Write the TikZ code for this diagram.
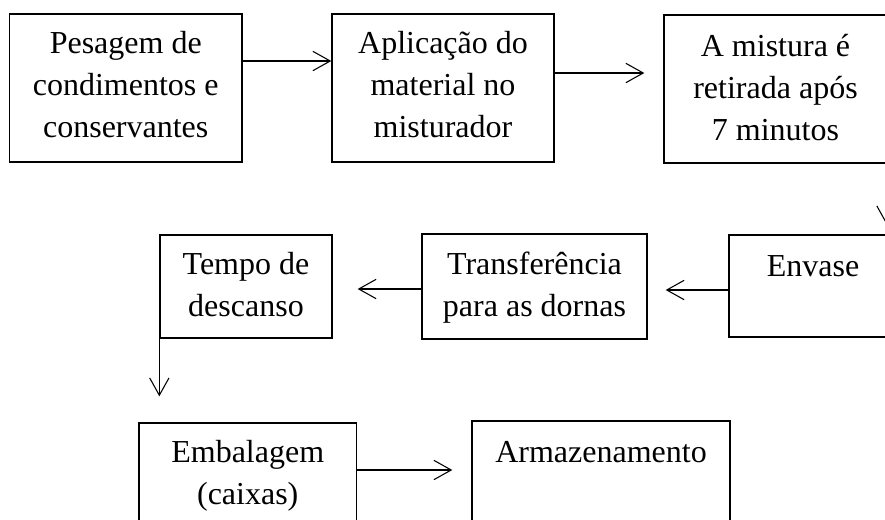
\documentclass[tikz,border=0pt]{standalone}
\usepackage{fontspec}
\setmainfont{Liberation Serif}
\usetikzlibrary{arrows.meta,fit,calc}
\tikzset{
  box/.style={draw=black, line width=1pt, inner sep=0pt, fill=none},
  lbl/.style={anchor=base, inner sep=0pt, font=\fontsize{24pt}{31.5pt}\selectfont},
  arr/.style={draw=black, line width=0.8pt, -{Straight Barb[length=13pt,width=14.5pt,line width=0.8pt]}}
}
\newcommand{\lines}[1]{\begin{tabular}[t]{@{}c@{}}#1\end{tabular}}
\begin{document}
\begin{tikzpicture}[x=0.75pt,y=-0.75pt]
\useasboundingbox (0,0) rectangle (885,519);
\fill[white] (0,0) rectangle (885,519);
\clip (0,0) rectangle (885,519);
% boxes
\node[box, fit={(9.5,14) (242,162)}] (b1) {};
\node[box, fit={(332,14) (554,162)}] (b2) {};
\node[box, fit={(664,15) (887,163)}] (b3) {};
\node[box, fit={(729,235) (897,337)}] (be) {};
\node[box, fit={(422,234) (647,339)}] (bt) {};
\node[box, fit={(160,235) (332,338)}] (bd) {};
\node[box, fit={(139,423) (356.5,560)}] (bm) {};
\node[box, fit={(472,421) (730,560)}] (ba) {};
% labels
\node[lbl] (t1) at ($(b1.north)+(0,40.5)$) {\lines{Pesagem de\\condimentos e\\conservantes}};
\node[lbl] (t2) at ($(b2.north)+(0,40.5)$) {\lines{Aplicação do\\material no\\misturador}};
\node[lbl] (t3) at ($(b3.north)+(0,42)$) {\lines{A mistura é\\retirada após\\7 minutos}};
\node[lbl] (te) at ($(be.north)+(0,42)$) {\lines{Envase}};
\node[lbl] (tt) at ($(bt.north)+(0,41)$) {\lines{Transferência\\para as dornas}};
\node[lbl] (td) at ($(bd.north)+(0,40)$) {\lines{Tempo de\\descanso}};
\node[lbl] (tm) at ($(bm.north)+(0,40)$) {\lines{Embalagem\\(caixas)}};
\node[lbl] (ta) at ($(ba.north)+(0,42)$) {\lines{Armazenamento}};
% connectors
\draw[arr] (b1.east |- 0,61) -- (b2.west |- 0,61);
\draw[arr] (b2.east |- 0,73) -- ($(b3.west |- 0,73)+(-19,0)$);
\draw[arr] (886.5,0 |- b3.south) -- ($(886.5,0 |- be.north)+(0,-10)$);
\draw[arr] (be.west |- 0,290) -- ($(bt.east |- 0,290)+(18,0)$);
\draw[arr] (bt.west |- 0,289) -- ($(bd.east |- 0,289)+(25,0)$);
\draw[arr] (bd.south west) -- ($(bm.north -| bd.west)+(0,-26)$);
\draw[arr] (bm.east |- 0,470) -- ($(ba.west |- 0,470)+(-19,0)$);
\end{tikzpicture}
\end{document}
